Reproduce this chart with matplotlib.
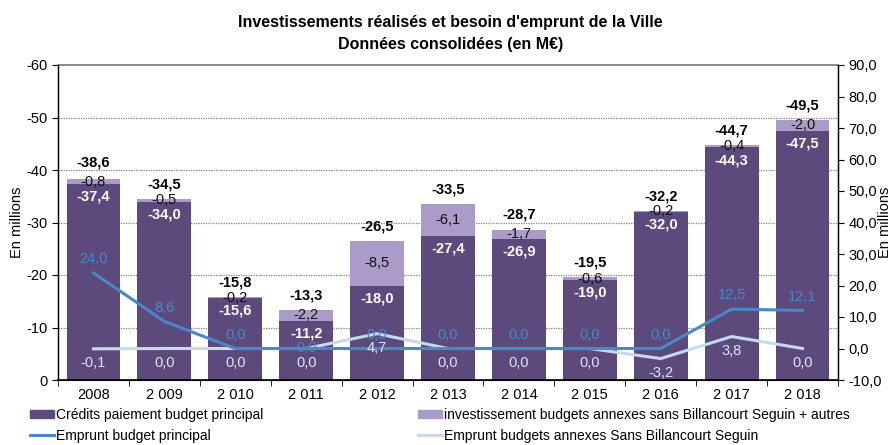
import numpy as np
import matplotlib.pyplot as plt
from matplotlib.patches import Patch
from matplotlib.lines import Line2D

plt.rcParams['font.family'] = ['Liberation Sans', 'DejaVu Sans']

# Data
annees = ['2008', '2 009', '2 010', '2 011', '2 012', '2 013', '2 014', '2 015', '2 016', '2 017', '2 018']
credits_principal = [-37.4, -34.0, -15.6, -11.2, -18.0, -27.4, -26.9, -19.0, -32.0, -44.3, -47.5]
invest_annexes = [-0.8, -0.5, -0.2, -2.2, -8.5, -6.1, -1.7, -0.6, -0.2, -0.4, -2.0]
totaux = [-38.6, -34.5, -15.8, -13.3, -26.5, -33.5, -28.7, -19.5, -32.2, -44.7, -49.5]
emprunt_principal = [24.0, 8.6, 0.0, 0.0, 0.0, 0.0, 0.0, 0.0, 0.0, 12.5, 12.1]
emprunt_annexes = [-0.1, 0.0, 0.0, 0.0, 4.7, 0.0, 0.0, 0.0, -3.2, 3.8, 0.0]

c_dark = '#5c4a7d'
c_light = '#ab9bc9'
c_line1 = '#4a86c8'
c_line2 = '#c5d9ef'
c_lab2 = '#dde8f5'


def fr(v):
    return f"{v:.1f}".replace('.', ',')


fig = plt.figure(figsize=(8.92, 4.45), dpi=100)
ax = fig.add_axes([58 / 892, 1 - 380 / 445, 780 / 892, 315 / 445])
x = np.arange(len(annees))
w = 0.76

ax.bar(x, credits_principal, w, color=c_dark, zorder=2)
ax.bar(x, invest_annexes, w, bottom=credits_principal, color=c_light, zorder=2)
ax.set_ylim(0, -60)
ax.set_xlim(-0.5, len(annees) - 0.5)
ax.set_yticks(np.arange(0, -61, -10))
ax.set_yticklabels([str(t) for t in range(0, -61, -10)], fontsize=10.5)
ax.set_xticks(x)
ax.set_xticklabels(annees, fontsize=10.5)
ax.tick_params(axis='x', length=0, pad=6)
ax.set_xticks(np.arange(-0.5, len(annees)), minor=True)
ax.tick_params(axis='x', which='minor', length=4, direction='out')
ax.tick_params(axis='y', length=4, direction='out')
for g in range(-10, -51, -10):
    ax.axhline(g, color='#8a7d74', lw=0.9, ls=(0, (1, 1)), zorder=1)
ax.spines['top'].set_color('#777777')
ax.spines['top'].set_linewidth(1.2)
ax.spines['left'].set_linewidth(1.0)
ax.spines['bottom'].set_linewidth(1.2)
ax.set_ylabel('En millions', fontsize=10.5)
ax.yaxis.set_label_coords(-0.043, 0.5)

for i in range(len(annees)):
    top_dark = credits_principal[i]
    ax.text(x[i], top_dark + 2.4, fr(top_dark), color='white', fontsize=10.5,
            fontweight='bold', ha='center', va='center', zorder=4)
    mid = top_dark + invest_annexes[i] / 2
    ax.text(x[i], mid, fr(invest_annexes[i]), color='#111111', fontsize=10.5,
            ha='center', va='center', zorder=4)
    ax.text(x[i], totaux[i] - 2.8, fr(totaux[i]), color='black', fontsize=10.5,
            fontweight='bold', ha='center', va='center', zorder=4)

ax2 = ax.twinx()
ax2.set_ylim(-10, 90)
ax2.set_yticks(np.arange(-10, 91, 10))
ax2.set_yticklabels([fr(t) for t in range(-10, 91, 10)], fontsize=10.5)
ax2.tick_params(axis='y', length=4, direction='out')
ax2.spines['right'].set_linewidth(1.0)
ax2.spines['top'].set_visible(False)
ax2.set_ylabel('En millions', fontsize=10.5)
ax2.yaxis.set_label_coords(1.051, 0.5)

ax2.plot(x, emprunt_annexes, color=c_line2, lw=2.2, zorder=3)
ax2.plot(x, emprunt_principal, color=c_line1, lw=2.2, zorder=4)

for i in range(len(annees)):
    dy = 4.4 if i != 3 else 0.0
    ax2.text(x[i], emprunt_principal[i] + dy, fr(emprunt_principal[i]), color=c_line1,
             fontsize=10.5, ha='center', va='center', zorder=5)
    ax2.text(x[i], emprunt_annexes[i] - 4.6, fr(emprunt_annexes[i]), color=c_lab2,
             fontsize=10.5, ha='center', va='center', zorder=5)

fig.text(0.505, 0.949, "Investissements réalisés et besoin d'emprunt de la Ville",
         ha='center', va='center', fontsize=11.5, fontweight='bold')
fig.text(0.505, 0.899, "Données consolidées (en M€)",
         ha='center', va='center', fontsize=11.5, fontweight='bold')

leg_kw = dict(frameon=False, fontsize=10, handlelength=1.7, handleheight=0.5,
              handletextpad=0.2, labelspacing=0.5, borderaxespad=0, borderpad=0)
fig.legend([Patch(color=c_dark), Line2D([], [], color=c_line1, lw=2.2)],
           ['Crédits paiement budget principal', 'Emprunt budget principal'],
           loc='upper left', bbox_to_anchor=(30 / 892, 1 - 408 / 445), **leg_kw)
fig.legend([Patch(color=c_light), Line2D([], [], color=c_line2, lw=2.2)],
           ['investissement budgets annexes sans Billancourt Seguin + autres',
            'Emprunt budgets annexes Sans Billancourt Seguin'],
           loc='upper left', bbox_to_anchor=(418 / 892, 1 - 408 / 445), **leg_kw)

fig.savefig('out.png', dpi=100)
